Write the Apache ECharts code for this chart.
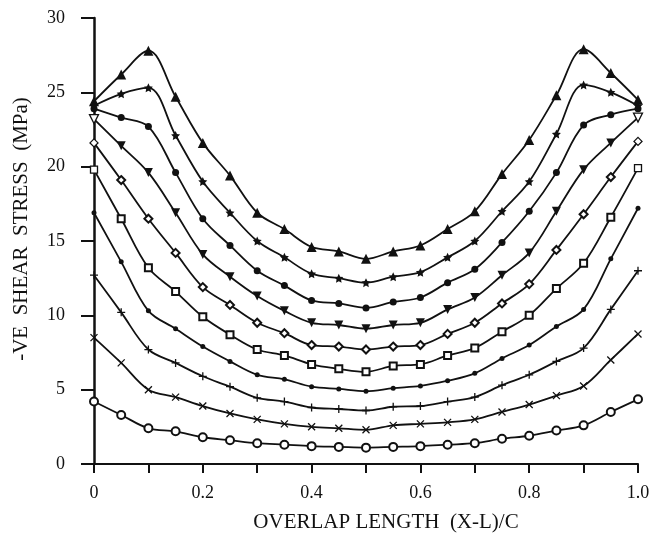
<!DOCTYPE html>
<html>
<head>
<meta charset="utf-8">
<script src="https://cdn.jsdelivr.net/npm/echarts@6/dist/echarts.min.js"></script>
<style>
  html, body { margin: 0; padding: 0; background: #fff; }
  #chart { width: 653px; height: 547px; }
</style>
</head>
<body>
<div id="chart"></div>
<script>
// Position along the overlap, (X-L)/C
const overlap = [0, 0.05, 0.1, 0.15, 0.2, 0.25, 0.3, 0.35, 0.4, 0.45, 0.5,
                 0.55, 0.6, 0.65, 0.7, 0.75, 0.8, 0.85, 0.9, 0.95, 1.0];

// -ve shear stress (MPa) along the overlap, one curve per load case
const stressTriangle = [24.4, 26.2, 27.8, 24.7, 21.6, 19.4, 16.9, 15.8, 14.6, 14.3, 13.8,
                        14.3, 14.7, 15.8, 17.0, 19.5, 21.8, 24.8, 27.9, 26.3, 24.5];
const stressStar     = [24.1, 24.9, 25.3, 22.1, 19.0, 16.9, 15.0, 13.9, 12.8, 12.5, 12.2,
                        12.6, 12.9, 13.9, 15.0, 17.0, 19.0, 22.2, 25.5, 25.0, 24.1];
const stressDot      = [23.9, 23.3, 22.7, 19.6, 16.5, 14.7, 13.0, 12.0, 11.0, 10.8, 10.5,
                        10.9, 11.2, 12.2, 13.1, 14.9, 17.0, 19.6, 22.8, 23.5, 23.9];
const stressInvTri   = [23.2, 21.4, 19.6, 16.9, 14.1, 12.6, 11.3, 10.3, 9.5, 9.35, 9.1,
                        9.35, 9.5, 10.4, 11.2, 12.7, 14.2, 17.0, 19.8, 21.6, 23.3];
const stressDiamond  = [21.6, 19.1, 16.5, 14.2, 11.9, 10.7, 9.5, 8.8, 8.0, 7.9, 7.7,
                        7.9, 8.0, 8.75, 9.5, 10.8, 12.1, 14.4, 16.8, 19.3, 21.7];
const stressSquare   = [19.8, 16.5, 13.2, 11.6, 9.9, 8.7, 7.7, 7.3, 6.7, 6.4, 6.2,
                        6.6, 6.7, 7.3, 7.8, 8.9, 10.0, 11.8, 13.5, 16.6, 19.9];
const stressSmallDot = [16.9, 13.6, 10.3, 9.1, 7.9, 6.9, 6.0, 5.7, 5.2, 5.05, 4.9,
                        5.1, 5.25, 5.6, 6.1, 7.1, 8.0, 9.25, 10.4, 13.8, 17.2];
const stressPlus     = [12.7, 10.2, 7.7, 6.8, 5.9, 5.2, 4.45, 4.2, 3.8, 3.7, 3.6,
                        3.85, 3.9, 4.2, 4.5, 5.3, 6.0, 6.9, 7.8, 10.4, 13.0];
const stressCross    = [8.5, 6.8, 5.0, 4.5, 3.9, 3.4, 3.0, 2.7, 2.5, 2.4, 2.3,
                        2.6, 2.7, 2.8, 3.0, 3.5, 4.0, 4.6, 5.25, 7.0, 8.75];
const stressCircle   = [4.2, 3.3, 2.4, 2.2, 1.8, 1.6, 1.4, 1.3, 1.2, 1.15, 1.1,
                        1.15, 1.2, 1.3, 1.4, 1.7, 1.9, 2.25, 2.6, 3.5, 4.35];

// Axis tick labels
const xTickLabels = ['0', '0.2', '0.4', '0.6', '0.8', '1.0'];
const yTickLabels = ['0', '5', '10', '15', '20', '25', '30'];

const FONT = 'Liberation Serif';
const INK = '#111';

const STAR = 'path://M0,-10 L2.9,-4 L9.5,-3.1 L4.7,1.5 L5.9,8.1 L0,5 L-5.9,8.1 L-4.7,1.5 L-9.5,-3.1 L-2.9,-4 Z';
const PLUS = 'path://M0,-5 L0,5 M-5,0 L5,0';
const CROSS = 'path://M-5,-5 L5,5 M-5,5 L5,-5';

// Builds one curve; openEnds draws the markers at both ends hollow
function curve(values, symbol, size, opts) {
  opts = opts || {};
  const data = values.map((v, i) => {
    const item = { value: [overlap[i], v] };
    if (opts.openEnds && (i === 0 || i === values.length - 1)) {
      item.itemStyle = { color: '#fff', borderColor: INK, borderWidth: 1.3 };
    }
    return item;
  });
  return {
    type: 'line',
    data: data,
    smooth: 0.35,
    symbol: symbol,
    symbolSize: size,
    showAllSymbol: true,
    lineStyle: { color: INK, width: 1.8 },
    itemStyle: Object.assign({ color: INK, borderColor: INK, borderWidth: 0 }, opts.item || {}),
    emphasis: { disabled: true },
    z: 2
  };
}

const chart = echarts.init(document.getElementById('chart'), null, { renderer: 'canvas' });

chart.setOption({
  animation: false,
  backgroundColor: '#fff',
  grid: { left: 94, right: 15, top: 18, bottom: 83 },
  xAxis: {
    type: 'value',
    min: 0, max: 1, interval: 0.1,
    name: 'OVERLAP LENGTH  (X-L)/C',
    nameLocation: 'middle',
    nameGap: 48,
    nameTextStyle: { fontFamily: FONT, fontSize: 21, color: INK, padding: [0, 0, 0, 40] },
    axisLine: { lineStyle: { color: INK, width: 2 } },
    axisTick: { inside: false, length: 9, lineStyle: { color: INK, width: 2 } },
    splitLine: { show: false },
    axisLabel: {
      margin: 20,
      fontFamily: FONT, fontSize: 18, color: INK,
      formatter: function (v) {
        const k = Math.round(v * 10);
        return k % 2 === 0 ? xTickLabels[k / 2] : '';
      }
    }
  },
  yAxis: {
    type: 'value',
    min: 0, max: 30, interval: 5,
    name: '-VE  SHEAR  STRESS  (MPa)',
    nameLocation: 'middle',
    nameGap: 62,
    nameRotate: 90,
    nameTextStyle: { fontFamily: FONT, fontSize: 21, color: INK, padding: [0, 0, 0, 24] },
    axisLine: { show: true, lineStyle: { color: INK, width: 2.5 } },
    axisTick: { show: true, length: 13, lineStyle: { color: INK, width: 2 } },
    splitLine: { show: false },
    axisLabel: {
      margin: 29,
      fontFamily: FONT, fontSize: 18, color: INK,
      formatter: function (v) { return yTickLabels[Math.round(v / 5)]; }
    }
  },
  series: [
    curve(stressTriangle, 'triangle', 10),
    curve(stressStar, STAR, 9),
    curve(stressDot, 'circle', 7),
    curve(stressInvTri, 'path://M-5,-4 L5,-4 L0,5 Z', 9, { openEnds: true }),
    curve(stressDiamond, 'diamond', 8, { openEnds: true, item: { color: '#fff', borderColor: INK, borderWidth: 2 } }),
    curve(stressSquare, 'rect', 7, { openEnds: true, item: { color: '#fff', borderColor: INK, borderWidth: 2 } }),
    curve(stressSmallDot, 'circle', 5),
    curve(stressPlus, PLUS, 8, { item: { color: 'none', borderColor: INK, borderWidth: 1.3 } }),
    curve(stressCross, CROSS, 7, { item: { color: 'none', borderColor: INK, borderWidth: 1.3 } }),
    curve(stressCircle, 'emptyCircle', 8, { item: { color: INK, borderWidth: 1.5 } })
  ]
});
</script>
</body>
</html>
